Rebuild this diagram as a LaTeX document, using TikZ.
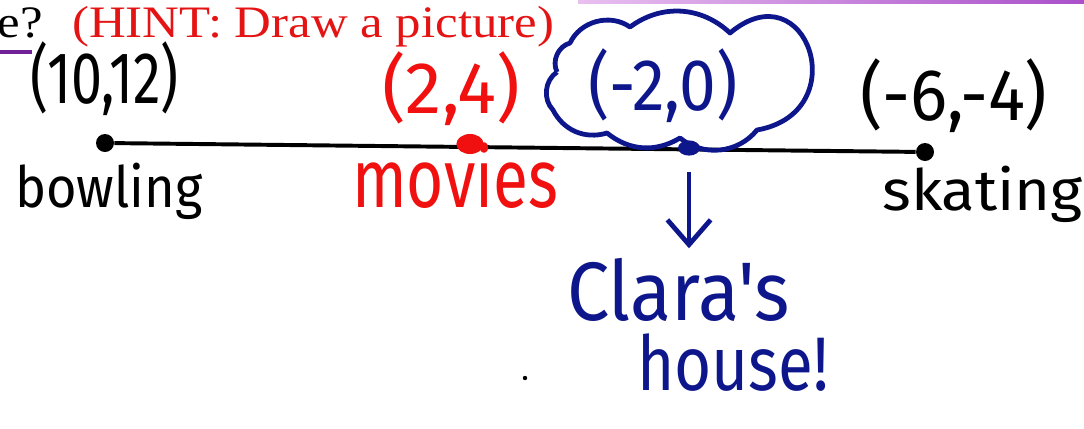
\documentclass[tikz,border=0pt]{standalone}
\usepackage{fontspec}
\usetikzlibrary{arrows.meta,shapes.geometric}
\newfontfamily\handfont{Fira Sans}
\newfontfamily\printfont{Liberation Serif}
\definecolor{penred}{RGB}{240,16,16}
\definecolor{penblue}{RGB}{14,22,140}
\definecolor{hintred}{RGB}{228,20,20}
\definecolor{linkpurple}{RGB}{112,34,150}

\begin{document}
\begin{tikzpicture}[x=0.025cm,y=0.025cm,
  hand/.style={font=\handfont\fontsize{#1}{#1}\selectfont,inner sep=0,anchor=base west},
  print/.style={font=\printfont\fontsize{32}{34}\selectfont,inner sep=0,xscale=1.13},
  dot/.style={circle,fill,inner sep=0,minimum size=0.45cm},
  blob/.style={ellipse,inner sep=0},
  axis/.style={line width=2.8pt},
  penarr/.style={-{Straight Barb[length=0.62cm,width=1.08cm]},line width=3.4pt,penblue},
  cloudline/.style={line width=3.4pt,line join=round,penblue}]
\clip (0,0) rectangle (1084,-428);

% ---- heading strip
\shade[left color={rgb,255:red,232;green,192;blue,240},right color={rgb,255:red,170;green,80;blue,202}]
  (578,0) rectangle (1084,-3);
\node[print,anchor=base east] (q) at (43,-37) {se?};
\node[print,text=hintred,anchor=base west] (hint) at (72,-37) {(HINT: Draw a picture)};
\draw[linkpurple,line width=2.2pt] (0,-52) -- (32,-52);

% ---- number line
\node[dot] (bdot) at (105,-143) {};
\node[dot] (sdot) at (925,-152) {};
\draw[axis] (bdot) -- (sdot);
\node[blob,fill=penred,minimum width=0.68cm,minimum height=0.5cm] (mdot) at (470,-144) {};

% ---- labels
\node[hand=52,xscale=0.76] (bpt) at (30,-103) {(10,12)};
\node[hand=40.5,xscale=0.92] (bowl) at (15,-207) {bowling};
\node[hand=52,text=penred] (mpt) at (382,-113) {(2,4)};
\node[hand=59,xscale=0.77,text=penred] (movie) at (352,-207) {movies};
\node[hand=52,xscale=0.9,text=penblue] (cpt) at (588,-110) {(-2,0)};
\node[hand=52,xscale=0.95] (spt) at (860,-120) {(-6,-4)};
\node[hand=40.5,xscale=1.08] (skate) at (882,-210) {skating};
\node[hand=59,xscale=0.91,text=penblue] (claras) at (567,-320) {Clara's};
\node[hand=54,xscale=0.84,text=penblue] (house) at (637,-390) {house!};

% ---- cloud round the midpoint
\draw[cloudline] (557,-72) to[bend left=50] (570,-43) to[bend left=50] (630,-27)
  to[bend left=40] (730,-33) to[out=40,in=10,looseness=2.55] (757,-130)
  to[bend left=45] (680,-138) to[bend left=35] (607,-133) to[bend left=40] (553,-110)
  to[bend left=50] (557,-72);
\node[blob,fill=penblue,minimum width=0.55cm,minimum height=0.38cm] (cdot) at (689,-148) {};

\draw[penarr,shorten <=0.4cm,shorten >=0.23cm] (cdot.south) -- (cdot.south |- claras.north);
\node[circle,fill,inner sep=0,minimum size=0.11cm] (speck) at (525,-378) {};
\end{tikzpicture}
\end{document}
